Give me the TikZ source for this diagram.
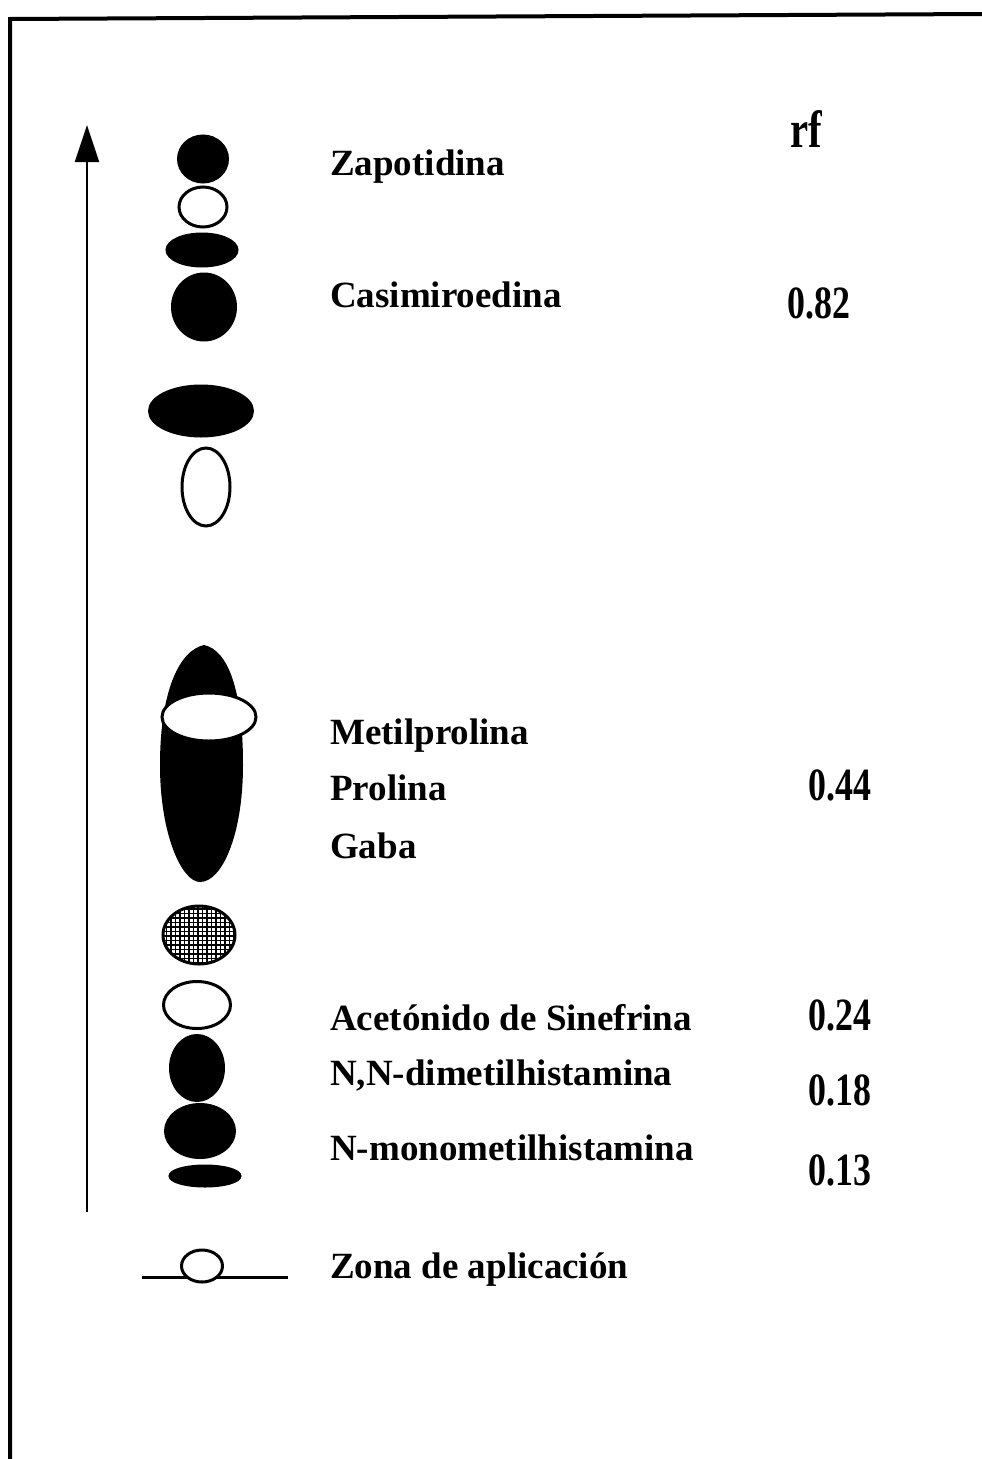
\documentclass[tikz,border=0pt]{standalone}
\usepackage{fontspec}
\setmainfont{Liberation Serif}
\usetikzlibrary{arrows.meta,shapes.geometric}
\newcommand{\tallnum}[1]{\scalebox{0.97}[1.25]{#1}}
\tikzset{
  lbl/.style={anchor=base west,inner sep=0pt,font=\bfseries\fontsize{37}{40}\selectfont},
  rfnum/.style={anchor=base west,inner sep=0pt,font=\bfseries\fontsize{37}{40}\selectfont},
  spotfull/.style={ellipse,draw=black,fill=black,line width=3pt,inner sep=0pt},
  spotopen/.style={ellipse,draw=black,fill=white,line width=3pt,inner sep=0pt},
  framel/.style={line width=4pt,line cap=butt},
}
\begin{document}
\begin{tikzpicture}[x=1pt,y=-1pt]
\useasboundingbox (0,0) rectangle (982,1459);
% frame
\coordinate (fb) at (10,1459);
\coordinate (fc) at (10,19);
\coordinate (fr) at (982,14);
\draw[framel] (fb) -- (fc) -- (fr);
% arrow
\coordinate (ab) at (87,1212);
\coordinate (at) at (87,125);
\draw[line width=2.2pt,-{Triangle[length=37pt,width=24pt]}] (ab) -- (at);
% top spots
\node[spotfull,minimum width=49,minimum height=46] (s1) at (203,159) {};
\node[spotopen,minimum width=48,minimum height=40] (s2) at (203,207) {};
\node[spotfull,minimum width=70,minimum height=32] (s3) at (202,250) {};
\node[spotfull,minimum width=63,minimum height=66] (s4) at (204,307) {};
\node[spotfull,minimum width=103,minimum height=50] (s5) at (201,411) {};
\node[spotopen,minimum width=48,minimum height=78] (s6) at (206,487) {};
% big elongated spot
\fill[black] (204,645) .. controls (180,650) and (160,690) .. (160,765)
  .. controls (160,835) and (182,882) .. (200,882)
  .. controls (222,882) and (243,835) .. (243,765)
  .. controls (243,690) and (228,650) .. (204,645) -- cycle;
\node[spotopen,minimum width=94,minimum height=48] (s7) at (209,717) {};
% grid spot
\node[ellipse,inner sep=0pt,minimum width=72,minimum height=58] (s8) at (199,935) {};
\begin{scope}
  \clip (199,935) ellipse [x radius=36,y radius=29];
  \fill[white] (160,900) rectangle (240,970);
  \draw[black,line width=1.6pt] (150,890) grid[step=4.5pt] (250,980);
\end{scope}
\draw[line width=3pt] (199,935) ellipse [x radius=36,y radius=29];
% lower spots
\node[spotopen,minimum width=67,minimum height=47] (s9) at (197,1005) {};
\node[spotfull,minimum width=53,minimum height=65] (s10) at (197,1068) {};
\node[spotfull,minimum width=69,minimum height=53] (s11) at (200,1131) {};
\node[spotfull,minimum width=70,minimum height=20] (s12) at (205,1176) {};
% application zone
\coordinate (zl) at (142,1277);
\coordinate (zr) at (288,1277);
\draw[line width=3pt] (zl) -- (zr);
\node[spotopen,minimum width=41,minimum height=32] (zc) at (202,1266) {};
% labels
\node[anchor=base west,inner sep=0pt,font=\bfseries\fontsize{42}{44}\selectfont] (rf) at (790,147) {\tallnum{rf}};
\node[lbl] (t1) at (330,175) {Zapotidina};
\node[lbl] (t2) at (330,307) {Casimiroedina};
\node[rfnum] (r1) at (787,318) {\tallnum{0.82}};
\node[lbl] (t3) at (330,744) {Metilprolina};
\node[lbl] (t4) at (330,800) {Prolina};
\node[rfnum] (r2) at (808,800) {\tallnum{0.44}};
\node[lbl] (t5) at (330,858) {Gaba};
\node[lbl] (t6) at (330,1030) {Acetónido de Sinefrina};
\node[rfnum] (r3) at (808,1030) {\tallnum{0.24}};
\node[lbl] (t7) at (330,1085) {N,N-dimetilhistamina};
\node[rfnum] (r4) at (808,1105) {\tallnum{0.18}};
\node[lbl] (t8) at (330,1160) {N-monometilhistamina};
\node[rfnum] (r5) at (808,1185) {\tallnum{0.13}};
\node[lbl] (t9) at (330,1278) {Zona de aplicación};
\end{tikzpicture}
\end{document}
